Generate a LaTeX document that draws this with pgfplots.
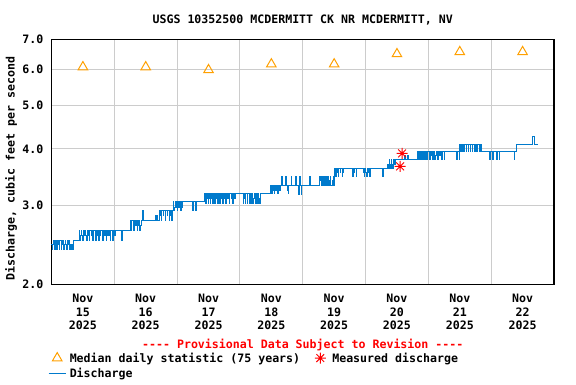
\documentclass[border=0pt]{standalone}
\usepackage{fontspec}
\newfontfamily\mono{DejaVu Sans Mono}
\usepackage{pgfplots}
\usepackage{pgfplotstable}
\pgfplotsset{compat=1.18}
\definecolor{qblue}{RGB}{0,122,204}
\definecolor{qorange}{RGB}{255,160,0}
\definecolor{qgrid}{RGB}{204,204,204}
\pgfdeclareplotmark{star8}{%
 \pgfpathmoveto{\pgfqpoint{0pt}{\pgfplotmarksize}}\pgfpathlineto{\pgfqpoint{0pt}{-\pgfplotmarksize}}%
 \pgfpathmoveto{\pgfqpoint{\pgfplotmarksize}{0pt}}\pgfpathlineto{\pgfqpoint{-\pgfplotmarksize}{0pt}}%
 \pgfpathmoveto{\pgfqpoint{0.707\pgfplotmarksize}{0.707\pgfplotmarksize}}\pgfpathlineto{\pgfqpoint{-0.707\pgfplotmarksize}{-0.707\pgfplotmarksize}}%
 \pgfpathmoveto{\pgfqpoint{0.707\pgfplotmarksize}{-0.707\pgfplotmarksize}}\pgfpathlineto{\pgfqpoint{-0.707\pgfplotmarksize}{0.707\pgfplotmarksize}}%
 \pgfusepathqstroke}
\pgfplotsset{widemark/.style={legend image code/.code={\node[draw=none,fill=none,inner sep=0pt,outer sep=0pt,anchor=center,minimum width=0.6cm,minimum height=1pt] at (0.3cm,0cm) {}; \draw[##1] plot coordinates {(0.3cm,0cm)};}}}
\newcommand{\ff}{\mono\fontsize{11.6pt}{13pt}\selectfont\bfseries}
\pgfplotstableread{
x y
0.000 2.45
0.010 2.39
0.021 2.45
0.031 2.50
0.042 2.45
0.052 2.39
0.063 2.50
0.073 2.45
0.083 2.39
0.094 2.50
0.115 2.45
0.125 2.39
0.135 2.50
0.156 2.39
0.167 2.45
0.177 2.50
0.198 2.39
0.208 2.45
0.219 2.50
0.229 2.45
0.240 2.39
0.250 2.50
0.271 2.45
0.281 2.50
0.292 2.39
0.302 2.45
0.313 2.39
0.323 2.45
0.333 2.39
0.347 2.50
0.443 2.64
0.453 2.50
0.464 2.57
0.474 2.64
0.484 2.57
0.495 2.50
0.505 2.64
0.516 2.57
0.526 2.64
0.547 2.57
0.557 2.50
0.568 2.64
0.578 2.57
0.589 2.64
0.599 2.50
0.609 2.64
0.630 2.57
0.641 2.64
0.651 2.50
0.661 2.57
0.672 2.64
0.693 2.57
0.703 2.50
0.714 2.64
0.724 2.57
0.734 2.64
0.755 2.50
0.766 2.64
0.776 2.57
0.786 2.64
0.807 2.57
0.818 2.50
0.828 2.64
0.849 2.57
0.859 2.64
0.870 2.50
0.880 2.57
0.891 2.64
0.911 2.57
0.922 2.64
0.932 2.50
0.943 2.64
0.964 2.57
0.974 2.50
0.984 2.64
1.005 2.57
1.016 2.64
1.115 2.50
1.125 2.64
1.250 2.70
1.260 2.775
1.271 2.64
1.281 2.775
1.302 2.70
1.313 2.64
1.323 2.775
1.344 2.70
1.354 2.775
1.365 2.64
1.375 2.70
1.385 2.775
1.406 2.64
1.417 2.70
1.427 2.775
1.448 2.92
1.458 2.775
1.663 2.85
1.674 2.775
1.684 2.85
1.695 2.775
1.716 2.92
1.726 2.85
1.737 2.92
1.747 2.775
1.758 2.92
1.779 2.85
1.789 2.92
1.810 2.775
1.820 2.92
1.841 2.85
1.851 2.92
1.872 2.775
1.883 2.92
1.893 2.85
1.904 2.92
1.914 2.775
1.925 2.92
1.938 3.05
1.948 2.92
1.958 2.97
1.969 3.05
1.979 2.97
1.990 3.05
2.000 2.92
2.010 3.05
2.021 2.97
2.031 3.05
2.052 2.92
2.063 3.05
2.073 2.97
2.083 3.05
2.250 2.92
2.260 3.05
2.297 2.92
2.307 3.05
2.442 3.19
2.453 3.02
2.463 3.19
2.474 3.11
2.484 3.19
2.495 3.02
2.505 3.11
2.516 3.19
2.526 3.02
2.536 3.19
2.547 3.11
2.557 3.19
2.568 3.02
2.578 3.19
2.589 3.11
2.599 3.02
2.609 3.19
2.620 3.11
2.630 3.19
2.641 3.02
2.651 3.19
2.661 3.11
2.672 3.19
2.682 3.02
2.693 3.19
2.703 3.11
2.714 3.19
2.724 3.02
2.734 3.19
2.755 3.11
2.766 3.19
2.776 3.02
2.786 3.19
2.807 3.11
2.818 3.19
2.828 3.02
2.839 3.19
2.859 3.11
2.870 3.19
2.880 3.02
2.891 3.19
2.911 3.11
2.922 3.19
3.052 3.02
3.063 3.19
3.073 3.11
3.083 3.02
3.094 3.19
3.115 3.02
3.125 3.19
3.146 3.11
3.156 3.02
3.167 3.19
3.177 3.02
3.188 3.19
3.208 3.02
3.219 3.11
3.229 3.19
3.250 3.02
3.260 3.19
3.281 3.02
3.292 3.19
3.302 3.11
3.313 3.02
3.323 3.19
3.484 3.32
3.495 3.24
3.505 3.19
3.516 3.32
3.526 3.24
3.536 3.32
3.547 3.19
3.557 3.24
3.568 3.32
3.578 3.24
3.589 3.32
3.599 3.19
3.609 3.32
3.630 3.24
3.641 3.32
3.661 3.47
3.672 3.32
3.724 3.47
3.734 3.32
3.755 3.24
3.766 3.19
3.776 3.32
3.818 3.47
3.828 3.32
3.890 3.47
3.901 3.32
3.932 3.17
3.943 3.24
3.953 3.47
3.964 3.32
3.974 3.17
3.984 3.32
4.110 3.47
4.120 3.32
4.271 3.47
4.281 3.41
4.292 3.32
4.302 3.47
4.313 3.32
4.323 3.41
4.333 3.47
4.344 3.32
4.365 3.47
4.375 3.41
4.385 3.32
4.396 3.47
4.406 3.32
4.427 3.41
4.438 3.47
4.448 3.32
4.469 3.41
4.479 3.32
4.490 3.47
4.500 3.32
4.510 3.62
4.521 3.47
4.531 3.62
4.542 3.54
4.552 3.62
4.563 3.47
4.573 3.62
4.594 3.54
4.604 3.62
4.625 3.47
4.635 3.62
4.646 3.54
4.656 3.62
4.800 3.47
4.810 3.62
4.820 3.54
4.831 3.62
4.851 3.47
4.862 3.62
4.960 3.54
4.970 3.62
4.981 3.47
4.991 3.62
5.002 3.54
5.012 3.47
5.023 3.62
5.043 3.54
5.054 3.62
5.064 3.47
5.075 3.62
5.270 3.47
5.280 3.62
5.354 3.69
5.365 3.62
5.375 3.78
5.385 3.69
5.396 3.62
5.406 3.78
5.417 3.69
5.427 3.62
5.438 3.78
5.458 3.69
5.469 3.78
5.620 3.86
5.630 3.78
5.672 3.86
5.682 3.78
5.830 3.94
5.841 3.78
5.851 3.86
5.862 3.94
5.872 3.78
5.893 3.94
5.903 3.86
5.914 3.78
5.924 3.94
5.945 3.78
5.955 3.94
5.966 3.86
5.976 3.78
5.987 3.94
6.021 3.78
6.031 3.94
6.042 3.86
6.052 3.94
6.073 3.78
6.083 3.94
6.104 3.78
6.115 3.86
6.125 3.94
6.146 3.78
6.156 3.94
6.177 3.86
6.188 3.94
6.208 3.78
6.219 3.94
6.250 3.78
6.260 3.94
6.450 3.78
6.460 3.94
6.490 3.78
6.500 4.08
6.510 3.94
6.521 4.08
6.542 3.94
6.552 4.08
6.573 3.94
6.583 4.08
6.604 3.94
6.615 4.08
6.635 3.94
6.646 4.08
6.667 3.94
6.677 4.08
6.698 3.94
6.708 4.08
6.740 3.94
6.750 4.08
6.771 3.94
6.781 4.08
6.813 3.94
6.823 4.08
6.844 3.94
6.979 3.78
6.990 3.94
7.021 3.78
7.031 3.86
7.042 3.94
7.083 3.78
7.094 3.94
7.125 3.78
7.135 3.94
7.365 3.78
7.375 3.94
7.396 4.08
7.656 4.25
7.688 4.08
7.745 4.08
}\discharge
\pgfplotstableread{
x y
0.5 6.08
1.5 6.08
2.5 5.99
3.5 6.17
4.5 6.17
5.5 6.50
6.5 6.57
7.5 6.57
}\median
\pgfplotstableread{
x y
5.550 3.657
5.582 3.908
}\measured
\begin{document}
\begin{tikzpicture}
\useasboundingbox (0,0) rectangle (576pt,384pt);
\begin{axis}[
  at={(51.5pt,99.7pt)}, anchor=south west,
  scale only axis, width=502.5pt, height=244.8pt,
  xmin=0, xmax=8, ymode=log, ymin=2, ymax=7,
  ytick={2,3,4,5,6,7},
  yticklabels={2.0,3.0,4.0,5.0,6.0,7.0},
  xtick={0.5,1.5,2.5,3.5,4.5,5.5,6.5,7.5},
  xticklabels={{Nov\\15\\2025},{Nov\\16\\2025},{Nov\\17\\2025},{Nov\\18\\2025},{Nov\\19\\2025},{Nov\\20\\2025},{Nov\\21\\2025},{Nov\\22\\2025}},
  minor xtick={1,2,3,4,5,6,7},
  xminorgrids=true, ymajorgrids=true, xmajorgrids=false,
  grid style={qgrid, line width=1pt},
  minor grid style={qgrid, line width=1pt},
  major tick length=0pt, minor tick length=0pt,
  axis line style={black, line width=1.2pt},
  /pgf/number format/assume math mode=true,
  tick label style={font=\ff},
  yticklabel style={anchor=east, inner sep=0pt, xshift=-8pt},
  xticklabel style={font=\mono\fontsize{11.6pt}{13.5pt}\selectfont\bfseries, align=center, anchor=north, inner sep=0pt, yshift=-10pt},
  title={USGS 10352500 MCDERMITT CK NR MCDERMITT, NV},
  title style={font=\ff, at={(axis description cs:0.5,1.0817)}, anchor=center, inner sep=0pt, yshift=-7pt},
  ylabel={Discharge, cubic feet per second},
  ylabel style={font=\ff, at={(axis description cs:-0.0806,0.473)}, anchor=center, rotate=0, inner sep=0pt},
  legend style={at={(axis description cs:-0.007,-0.274)}, anchor=north west, draw=none, fill=none,
     inner sep=0pt, font=\ff, row sep=3pt, nodes={inner xsep=3.5pt, inner ysep=1pt},
     /tikz/every even column/.append style={column sep=8pt}},
  legend columns=2, legend cell align=left,
  clip=false,
]
\addplot[only marks, mark=triangle, mark size=5.5pt, qorange, mark options={line width=1pt}, widemark] table {\median};
\addlegendentry{Median daily statistic (75 years)}
\addplot[only marks, mark=star8, mark size=5.5pt, red, mark options={line width=1pt}, widemark] table {\measured};
\addlegendentry{Measured discharge}
\addplot[const plot, qblue, line width=1pt] table {\discharge};
\addlegendentry{Discharge}
\node[font=\ff, text=red, anchor=center, inner sep=0pt] at (axis description cs:0.5,-0.2480) {---- Provisional Data Subject to Revision ----};
\end{axis}
\end{tikzpicture}
\end{document}
